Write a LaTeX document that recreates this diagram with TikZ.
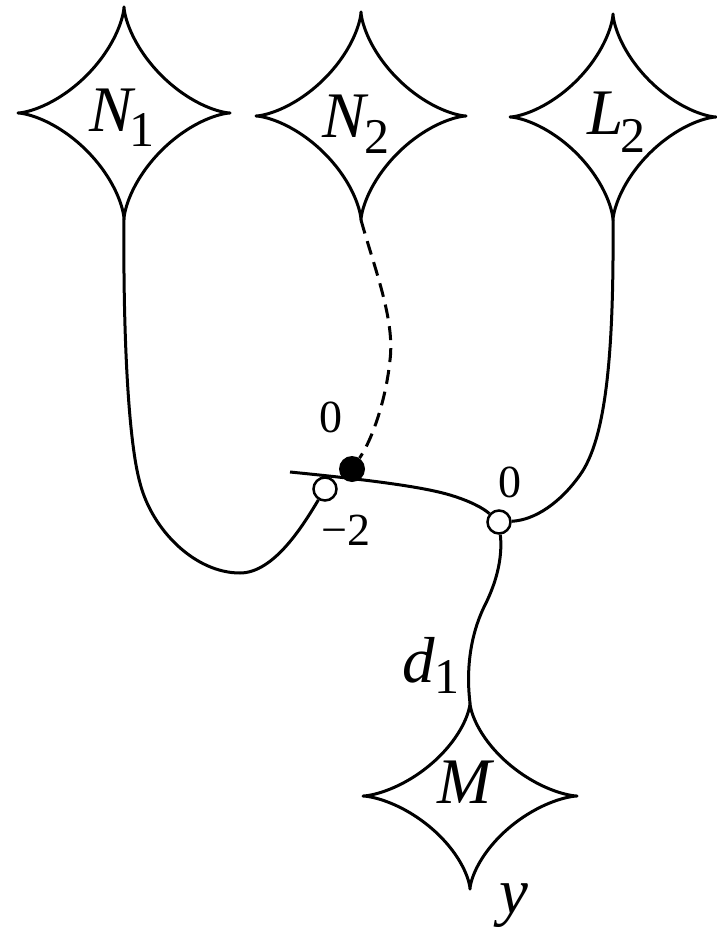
\documentclass[tikz,border=0pt]{standalone}
\usepackage{fontspec}
\setmainfont{Liberation Serif}
\usetikzlibrary{backgrounds}
\newcommand\subnum[1]{{\fontsize{50}{50}\selectfont\upshape #1}}
\tikzset{
  pics/astroid/.style n args={2}{code={
    \draw[line width=3pt, line join=round]
      plot[domain=0:360, samples=241, variable=\t]
      ({#1*cos(\t)*cos(\t)*cos(\t)},{#2*sin(\t)*sin(\t)*sin(\t)}) -- cycle;
    \coordinate (-t) at (0,-#2);
    \coordinate (-b) at (0,#2);
  }},
  wire/.style={line width=3pt},
  dashwire/.style={line width=3pt, dash pattern=on 14pt off 8pt},
  opencirc/.style={circle, draw, fill=white, line width=2.5pt, minimum size=23pt, inner sep=0pt},
  dotc/.style={circle, fill=black, minimum size=26pt, inner sep=0pt},
  lab/.style={inner sep=0pt, anchor=base west, font=\fontsize{65}{65}\selectfont\itshape},
  num/.style={inner sep=0pt, anchor=base, font=\fontsize{46}{46}\selectfont}
}
\begin{document}
\begin{tikzpicture}[x=1pt,y=-1pt]
\useasboundingbox (0,0) rectangle (716,928);
% stars
\pic (N1) at (124,113) {astroid={106}{106}};
\pic (N2) at (361,116) {astroid={105}{104}};
\pic (L2) at (613,117) {astroid={103}{103}};
\pic (M) at (470,796) {astroid={107}{93}};
% junction points
\node[opencirc] (c1) at (325,489) {};
\node[opencirc] (c2) at (499,522) {};
\node[dotc] (dot) at (352,469) {};
\coordinate (lend) at (290,472);
% labels
\node[lab] (tN1) at (89,132) {N\kern-3pt\raisebox{-15pt}{\subnum{1}}};
\node[lab] (tN2) at (322,138) {N\kern-1pt\raisebox{-16pt}{\subnum{2}}};
\node[lab] (tL2) at (587,135) {L\kern-3pt\raisebox{-18pt}{\subnum{2}}};
\node[lab] (tM) at (437,803) {M};
\node[lab] (td1) at (402,682) {d\raisebox{-11pt}{\subnum{1}}};
\node[lab] (ty) at (499,913) {y};
\node[num] (z1) at (331,432) {0};
\node[num] (z2) at (510,497) {0};
\node[num] (m2) at (346,545) {−2};
% connectors
\begin{pgfonlayer}{background}
\draw[wire] (N1-b) .. controls (123,330) and (128,440) .. (140,483)
  .. controls (152,530) and (195,573) .. (240,573)
  .. controls (275,573) and (305,522) .. (c1);
\draw[dashwire] (N2-b) .. controls (375,270) and (395,320) .. (390,360)
  .. controls (386,400) and (372,440) .. (dot);
\draw[wire] (L2-b) .. controls (614,360) and (605,440) .. (580,475)
  .. controls (560,503) and (535,520) .. (c2);
\draw[wire] (lend) .. controls (360,479) and (420,486) .. (450,495)
  .. controls (470,501) and (483,508) .. (c2);
\draw[wire] (c2) .. controls (503,560) and (495,585) .. (485,605)
  .. controls (470,635) and (466,670) .. (M-t);
\end{pgfonlayer}
\end{tikzpicture}
\end{document}
